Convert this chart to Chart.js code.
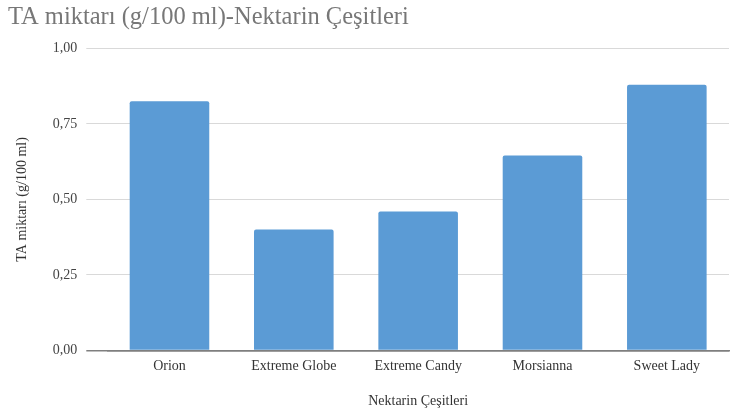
<!DOCTYPE html>
<html>
<head>
<meta charset="utf-8">
<script src="https://cdn.jsdelivr.net/npm/chart.js@4"></script>
<style>
  html, body { margin: 0; padding: 0; background: #fff; }
  #wrap { width: 740px; height: 414px; }
</style>
</head>
<body>
<div id="wrap"><canvas id="myChart"></canvas></div>
<script>
var cultivars = ['Orion', 'Extreme Globe', 'Extreme Candy', 'Morsianna', 'Sweet Lady'];
var taValues = [0.825, 0.40, 0.46, 0.645, 0.88];
var yTicks = [0, 0.25, 0.5, 0.75, 1.0];

var serif = "'Liberation Serif', 'DejaVu Serif', serif";

var ctx = document.getElementById('myChart').getContext('2d');
var myChart = new Chart(ctx, {
    type: 'bar',
    data: {
        labels: cultivars,
        datasets: [{
            label: 'TA miktarı (g/100 ml)',
            data: taValues,
            backgroundColor: '#5b9bd5',
            borderRadius: 2,
            borderSkipped: 'bottom',
            barPercentage: 0.64,
            categoryPercentage: 1.0
        }]
    },
    options: {
        responsive: true,
        maintainAspectRatio: false,
        animation: false,
        layout: {
            padding: { left: 8, right: 11, top: 0, bottom: 4 }
        },
        plugins: {
            legend: { display: false },
            tooltip: { enabled: false },
            title: {
                display: true,
                text: 'TA miktarı (g/100 ml)-Nektarin Çeşitleri',
                align: 'start',
                color: '#777777',
                font: { family: serif, size: 24.5, weight: 'normal' },
                padding: { top: 3, bottom: 16 }
            }
        },
        scales: {
            x: {
                grid: { display: false, drawTicks: false },
                border: { display: true, color: '#7f7f7f', width: 1.5 },
                ticks: {
                    color: '#333',
                    font: { family: serif, size: 14 },
                    padding: 8,
                    maxRotation: 0
                },
                title: {
                    display: true,
                    text: 'Nektarin Çeşitleri',
                    color: '#333',
                    font: { family: serif, size: 14 },
                    padding: { top: 10, bottom: 0 }
                }
            },
            y: {
                min: 0,
                max: 1,
                afterBuildTicks: function(axis) {
                    axis.ticks = yTicks.map(function(v) { return { value: v }; });
                },
                border: { display: false },
                grid: {
                    color: function(c) { return c.tick && c.tick.value === 0 ? '#7f7f7f' : '#d9d9d9'; },
                    lineWidth: function(c) { return c.tick && c.tick.value === 0 ? 1.5 : 1; },
                    tickLength: 21
                },
                ticks: {
                    color: '#444',
                    font: { family: serif, size: 14 },
                    padding: 9,
                    callback: function(value) {
                        return value.toFixed(2).replace('.', ',');
                    }
                },
                title: {
                    display: true,
                    text: 'TA miktarı (g/100 ml)',
                    color: '#333',
                    font: { family: serif, size: 14 },
                    padding: { top: 6, bottom: 13 }
                }
            }
        }
    }
});
</script>
</body>
</html>
